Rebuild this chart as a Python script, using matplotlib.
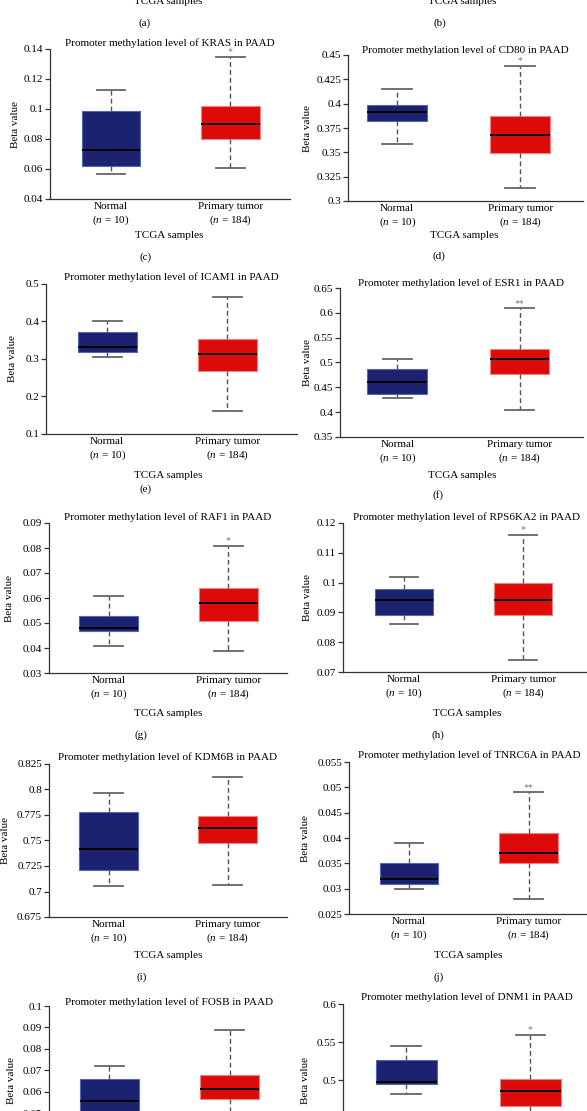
import matplotlib
matplotlib.use("Agg")
import matplotlib.pyplot as plt

plt.rcParams['font.family'] = ['Liberation Serif', 'DejaVu Serif']
plt.rcParams['mathtext.fontset'] = 'custom'
plt.rcParams['mathtext.rm'] = 'Liberation Serif'
plt.rcParams['mathtext.it'] = 'Liberation Serif:italic'

# ---------------- data ----------------
genes = ["KRAS", "CD80", "ICAM1", "ESR1", "RAF1", "RPS6KA2", "KDM6B", "TNRC6A", "FOSB", "DNM1"]
panel_letters = ["c", "d", "e", "f", "g", "h", "i", "j", "k", "l"]
hidden_letters = ["a", "b"]
groups = ["Normal", "Primary tumor"]
group_n = [10, 184]

# [whislo, q1, median, q3, whishi]
normal_stats = [
    [0.057, 0.062, 0.073, 0.099, 0.113],
    [0.359, 0.382, 0.391, 0.399, 0.415],
    [0.305, 0.319, 0.333, 0.371, 0.401],
    [0.428, 0.436, 0.460, 0.486, 0.507],
    [0.041, 0.047, 0.048, 0.053, 0.061],
    [0.086, 0.089, 0.094, 0.098, 0.102],
    [0.705, 0.721, 0.742, 0.778, 0.797],
    [0.030, 0.031, 0.032, 0.035, 0.039],
    [0.043, 0.047, 0.0557, 0.066, 0.072],
    [0.481, 0.495, 0.497, 0.526, 0.545],
]
tumor_stats = [
    [0.061, 0.080, 0.090, 0.102, 0.135],
    [0.313, 0.349, 0.368, 0.387, 0.439],
    [0.162, 0.268, 0.312, 0.354, 0.466],
    [0.404, 0.477, 0.508, 0.528, 0.609],
    [0.039, 0.051, 0.058, 0.064, 0.081],
    [0.074, 0.089, 0.094, 0.100, 0.116],
    [0.706, 0.748, 0.762, 0.774, 0.812],
    [0.028, 0.035, 0.037, 0.041, 0.049],
    [0.040, 0.0568, 0.0612, 0.0677, 0.0888],
    [0.420, 0.4656, 0.485, 0.501, 0.559],
]
stars = ["*", "*", "", "**", "*", "*", "", "**", "", "*"]

yticks = [
    [0.04, 0.06, 0.08, 0.1, 0.12, 0.14],
    [0.3, 0.325, 0.35, 0.375, 0.4, 0.425, 0.45],
    [0.1, 0.2, 0.3, 0.4, 0.5],
    [0.35, 0.4, 0.45, 0.5, 0.55, 0.6, 0.65],
    [0.03, 0.04, 0.05, 0.06, 0.07, 0.08, 0.09],
    [0.07, 0.08, 0.09, 0.1, 0.11, 0.12],
    [0.675, 0.7, 0.725, 0.75, 0.775, 0.8, 0.825],
    [0.025, 0.03, 0.035, 0.04, 0.045, 0.05, 0.055],
    [0.03, 0.04, 0.05, 0.06, 0.07, 0.08, 0.09, 0.1],
    [0.4, 0.45, 0.5, 0.55, 0.6],
]

# ---------------- layout (pixels) ----------------
W, H = 587, 1111
# l, t, r, b, xlo, xhi, title_y, ylabel_dx, xlabel_x, xlabel_y, letter_x, letter_y
layout = [
    (50, 49, 290, 199, 0.49, 2.50, 43, 34, 169, 236, 146, 257),
    (348, 55, 583, 201, 0.60, 2.51, 50, 40, 464, 236, 439, 256),
    (46, 284, 297, 434, 0.49, 2.58, 277, 33, 168, 475, 146, 489),
    (340, 288, 583, 437, 0.53, 2.52, 283, 33, 462, 476, 438, 495),
    (49, 523, 287, 673, 0.50, 2.49, 517, 39, 168, 713, 141, 735),
    (343, 523, 590, 672, 0.49, 2.56, 517, 36, 467, 713, 438, 735),
    (49, 764, 287, 917, 0.50, 2.50, 757, 43, 168, 955, 142, 977),
    (349, 762, 590, 914, 0.50, 2.51, 755, 44, 468, 955, 439, 977),
    (49, 1006, 290, 1156, 0.50, 2.50, 1002, 37, 169, 1196, 145, 1218),
    (343, 1004, 590, 1156, 0.49, 2.48, 997, 38, 466, 1196, 439, 1218),
]
hidden_layout = [(168, 1, 145, 23), (462, 1, 440, 23)]

FS = 8
fig = plt.figure(figsize=(W / 100, H / 100), dpi=100)
fig.patch.set_facecolor("white")

def fx(x):
    return x / W

def fy(y):
    return 1 - y / H

for (xl, yl, lx, ly), let in zip(hidden_layout, hidden_letters):
    fig.text(fx(xl), fy(yl), "TCGA samples", ha="center", va="center", fontsize=FS)
    fig.text(fx(lx), fy(ly), "(" + let + ")", ha="center", va="center", fontsize=FS)

colors = ["#1b2370", "#dd0a0a"]
edges = ["#5566b8", "#f28080"]

for i, g in enumerate(genes):
    l, t, r, b, xlo, xhi, ty, ydx, xlx, xly, ltx, lty = layout[i]
    ax = fig.add_axes([fx(l), fy(b), (r - l) / W, (b - t) / H])
    stats = []
    for s in (normal_stats[i], tumor_stats[i]):
        stats.append(dict(whislo=s[0], q1=s[1], med=s[2], q3=s[3], whishi=s[4], fliers=[]))
    bp = ax.bxp(stats, positions=[1, 2], widths=0.49, capwidths=0.24, patch_artist=True,
                showfliers=False,
                whiskerprops=dict(color="#555555", linestyle=(0, (3.5, 2.2)), linewidth=1.0),
                capprops=dict(color="#666666", linewidth=1.3),
                medianprops=dict(color="black", linewidth=1.4))
    for patch, fc, ec in zip(bp["boxes"], colors, edges):
        patch.set_facecolor(fc)
        patch.set_edgecolor(ec)
        patch.set_linewidth(0.8)
    ax.set_xlim(xlo, xhi)
    yt = yticks[i]
    ax.set_ylim(yt[0], yt[-1])
    ax.set_yticks(yt)
    # labels lying wholly below the picture's bottom edge are left blank
    ylabels = []
    for v in yt:
        ypix = b - (v - yt[0]) / (yt[-1] - yt[0]) * (b - t)
        ylabels.append("{:g}".format(v) if ypix < H + 4 else "")
    ax.set_yticklabels(ylabels, fontsize=FS)
    ax.set_xticks([1, 2])
    bottom_visible = b + 30 < H
    if bottom_visible:
        ax.set_xticklabels([grp + "\n(" + "$n$" + " = " + str(n) + ")" for grp, n in zip(groups, group_n)],
                           fontsize=FS, linespacing=1.25)
    else:
        ax.set_xticklabels(["", ""])
    ax.tick_params(axis="x", length=0, pad=2.5)
    ax.tick_params(axis="y", length=3.5, width=0.9, color="#333333", pad=1.5)
    for sp in ("top", "right"):
        ax.spines[sp].set_visible(False)
    for sp in ("left", "bottom"):
        ax.spines[sp].set_color("#333333")
        ax.spines[sp].set_linewidth(0.9)
    if stars[i]:
        ax.annotate(stars[i], xy=(2, tumor_stats[i][4]), xytext=(0, 0.5), textcoords="offset points",
                    ha="center", va="bottom", fontsize=7, color="#777777")
    fig.text(fx((l + r) / 2), fy(ty), "Promoter methylation level of " + g + " in PAAD",
             ha="center", va="center", fontsize=FS)
    fig.text(fx(l - ydx), fy((t + b) / 2), "Beta value", rotation=90, ha="center", va="center", fontsize=FS)
    if bottom_visible:
        fig.text(fx(xlx), fy(xly), "TCGA samples", ha="center", va="center", fontsize=FS)
        fig.text(fx(ltx), fy(lty), "(" + panel_letters[i] + ")", ha="center", va="center", fontsize=FS)

fig.savefig("out.png", dpi=100, facecolor="white")
